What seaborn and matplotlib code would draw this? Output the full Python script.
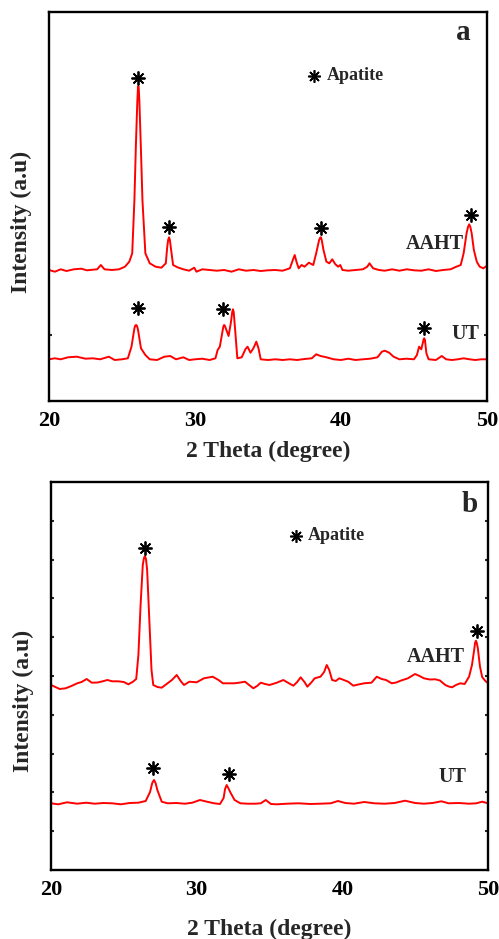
# -*- coding: utf-8 -*-
"""
XRD patterns of UT and AAHT samples, panels a and b.
"""

# %% Import packages

import pandas as pd
import matplotlib
matplotlib.use('Agg')
import matplotlib.pyplot as plt
import seaborn as sns

# %% Data (intensity in arbitrary units)

#Panel a - AAHT
aAahtTheta = [20.0, 20.4, 20.8, 21.2, 21.7, 22.2, 22.6, 23.0, 23.3, 23.55,
              23.8, 24.3, 24.8, 25.2, 25.5, 25.7, 25.85, 25.95, 26.05, 26.09,
              26.12, 26.15, 26.19, 26.3, 26.4, 26.6, 26.9, 27.3, 27.7, 28.0,
              28.1, 28.16, 28.22, 28.28, 28.35, 28.5, 28.8, 29.2, 29.6, 29.95,
              30.1, 30.5, 31.0, 31.5, 32.0, 32.5, 33.0, 33.5, 34.0, 34.5,
              35.0, 35.5, 36.0, 36.5, 36.7, 36.83, 36.95, 37.1, 37.3, 37.5,
              37.8, 38.1, 38.3, 38.5, 38.56, 38.62, 38.68, 38.8, 39.0, 39.2,
              39.4, 39.6, 39.8, 39.95, 40.1, 40.5, 41.0, 41.5, 41.8, 41.95,
              42.2, 42.6, 43.0, 43.5, 44.0, 44.5, 45.0, 45.5, 46.0, 46.5,
              47.0, 47.5, 47.9, 48.2, 48.4, 48.6, 48.7, 48.78, 48.86, 48.95,
              49.1, 49.3, 49.5, 49.75, 50.0]
aAahtInt = [131, 129.3, 131.7, 130, 131.7, 132.3, 130.7, 131.3, 131.7, 136,
            131.7, 131, 131.7, 134.3, 139.3, 147.7, 201, 255, 300, 312,
            315, 312, 300, 250, 201, 147.7, 137.7, 134.3, 133.3, 137.7,
            154.3, 161, 163.7, 161, 152.7, 136, 133.7, 131.7, 130.3, 133.3,
            129.3, 131.7, 131, 130.3, 131, 129.3, 131.7, 130.3, 131, 130,
            130.7, 131, 130.3, 132.7, 141, 146, 139.3, 132.7, 136, 134.3,
            138.3, 136, 147.7, 161, 163, 163.7, 161, 151, 139.3, 137.7,
            141.7, 137, 134.3, 136, 131, 130.3, 131, 131.7, 134.3, 137.7,
            132.7, 131, 130.3, 131.7, 130.3, 131.7, 130.7, 130.3, 131.7, 130,
            131, 131.7, 134.3, 136, 147.7, 167.7, 174, 176.7, 174, 167.7,
            151, 139.3, 134.3, 132.7, 135.3]

#Panel a - UT
aUtTheta = [20.0, 20.4, 20.8, 21.3, 21.9, 22.5, 23.0, 23.5, 24.1, 24.5,
            25.0, 25.4, 25.65, 25.85, 25.91, 25.97, 26.03, 26.1, 26.3, 26.6,
            26.9, 27.4, 27.9, 28.3, 28.7, 29.2, 29.6, 30.0, 30.5, 31.0,
            31.4, 31.55, 31.7, 31.9, 31.95, 32.0, 32.05, 32.15, 32.3, 32.45,
            32.55, 32.6, 32.65, 32.75, 32.9, 33.2, 33.45, 33.6, 33.8, 34.0,
            34.2, 34.35, 34.5, 35.0, 35.5, 36.0, 36.5, 37.0, 37.5, 38.0,
            38.3, 38.6, 39.0, 39.5, 40.0, 40.5, 41.0, 41.5, 42.0, 42.5,
            42.8, 43.0, 43.3, 43.6, 44.0, 44.5, 45.0, 45.2, 45.35, 45.5,
            45.65, 45.7, 45.75, 45.85, 46.0, 46.5, 46.9, 47.2, 47.6, 48.0,
            48.4, 48.8, 49.2, 49.6, 50.0]
aUtInt = [41.7, 42.7, 41.7, 43.7, 44.3, 42.3, 42.7, 41.7, 44.3, 41,
          41.7, 42.7, 54.3, 72.7, 75.5, 76, 75, 71, 52.7, 46,
          41.7, 41, 44.3, 45, 41.7, 43.7, 41, 41.7, 42.3, 41,
          42.7, 51, 54.3, 71, 75, 76, 75, 71, 65, 77.7,
          89, 91.7, 89, 71, 42.7, 43.7, 51.7, 54.3, 48.3, 52.7,
          59.3, 52.7, 41.7, 41, 41.7, 41, 41.7, 41, 42, 42.7,
          46.7, 45, 43.7, 41.7, 41, 42.3, 41, 41.7, 42.3, 43.7,
          49.3, 50.3, 48.3, 44.3, 41.7, 42.3, 41.7, 46, 54.3, 51.7,
          61, 62.7, 61, 47.7, 41.7, 41, 45, 41.7, 41, 41.7,
          42.7, 41.7, 41, 41.7, 41.7]

#Panel b - AAHT
bAahtTheta = [20.0, 20.3, 20.6, 21.0, 21.4, 21.8, 22.1, 22.45, 22.8, 23.2,
              23.5, 23.87, 24.2, 24.6, 25.0, 25.31, 25.6, 25.85, 26.0, 26.15,
              26.3, 26.38, 26.45, 26.52, 26.6, 26.75, 26.9, 27.02, 27.3, 27.6,
              28.0, 28.3, 28.63, 28.9, 29.13, 29.5, 30.0, 30.5, 31.1, 31.5,
              31.8, 32.2, 32.6, 33.0, 33.32, 33.6, 33.89, 34.15, 34.4, 34.7,
              35.0, 35.5, 35.95, 36.3, 36.64, 36.9, 37.14, 37.4, 37.6, 37.9,
              38.1, 38.5, 38.75, 38.93, 39.1, 39.3, 39.55, 39.79, 40.1, 40.4,
              40.75, 41.1, 41.5, 42.0, 42.36, 42.7, 43.0, 43.39, 43.7, 44.0,
              44.5, 44.99, 45.3, 45.6, 46.0, 46.38, 46.7, 47.07, 47.3, 47.53,
              47.8, 48.1, 48.4, 48.7, 48.9, 49.05, 49.11, 49.17, 49.23, 49.3,
              49.45, 49.6, 49.8, 50.0]
bAahtInt = [185, 183, 181, 181.7, 184, 186.7, 188, 191, 187.3, 187.5,
            188.5, 190, 188.7, 188.7, 188, 185.7, 188, 191, 215, 265,
            305, 312, 314, 311, 300, 250, 200, 185, 183, 182.3,
            186.7, 190, 195, 189, 185, 188.3, 187.7, 191.7, 193.3, 190,
            186.7, 186.7, 186.7, 187.5, 188.3, 185, 181.7, 184, 187.3, 186,
            185, 187.3, 190, 187, 184.3, 188, 192.7, 188, 183.3, 188,
            191.7, 193.3, 198, 205, 200, 190, 189, 191.7, 190, 188.3,
            184.3, 185.5, 186.7, 187.3, 193.3, 191, 190, 186.7, 187.5, 189.3,
            191.7, 196, 194, 191.7, 190.5, 190.7, 189.5, 185, 183.5, 182.7,
            185, 186.7, 186, 193.3, 205, 220, 227, 229.3, 227, 222,
            203.3, 193, 189.3, 186.7]

#Panel b - UT
bUtTheta = [20.0, 20.5, 21.1, 21.8, 22.4, 23.0, 23.6, 24.2, 24.8, 25.4,
            26.0, 26.5, 26.8, 26.95, 27.07, 27.18, 27.3, 27.6, 28.0, 28.6,
            29.2, 29.7, 30.23, 30.7, 31.2, 31.6, 31.85, 31.95, 32.06, 32.17,
            32.3, 32.6, 33.0, 33.5, 34.0, 34.4, 34.74, 35.1, 35.5, 36.2,
            37.0, 37.8, 38.5, 39.2, 39.7, 40.2, 40.8, 41.5, 42.2, 42.9,
            43.6, 44.3, 45.0, 45.6, 46.2, 46.8, 47.3, 48.0, 48.7, 49.2,
            49.6, 50.0]
bUtInt = [66.7, 65.7, 67.7, 66.3, 67.3, 66.3, 67, 66.7, 65.7, 67,
          67.3, 69, 78, 87, 90, 87, 80, 68.3, 66.7, 67,
          66.3, 67.3, 70, 68.3, 66.7, 66, 72, 81, 85, 82,
          78, 70, 66.7, 66.3, 66.3, 66.7, 70, 66, 65.7, 66.3,
          66.7, 66, 66.3, 66.7, 69, 67, 66.3, 68, 66.7, 66.3,
          67, 69.3, 67, 66.3, 67, 68.7, 66.7, 67, 66.3, 66.7,
          68.3, 66.7]

#Apatite peak markers (2 theta, intensity)
aStarTheta = [26.12, 28.25, 38.6, 48.9, 26.1, 31.95, 45.7]
aStarInt = [323, 174, 173, 186, 93, 91.7, 73]
bStarTheta = [26.45, 49.22, 27.0, 32.2]
bStarInt = [321.7, 239.3, 101.7, 96]

# %% Set-up

sns.set_style('white')
plt.rcParams['font.family'] = ['Liberation Serif', 'DejaVu Serif']
plt.rcParams['font.weight'] = 'bold'
plt.rcParams['axes.labelweight'] = 'bold'

fig = plt.figure(figsize = (4.99, 9.39), dpi = 100)
fig.patch.set_facecolor('white')

axA = fig.add_axes([49/499, (939-401)/939, 438/499, 389/939])
axB = fig.add_axes([51/499, (939-870)/939, 437/499, 388/939])

starMarker = (8, 2, 0)

def styleAxes(ax, yTicks, xPad, yLabPos):
    ax.set_xlim([20, 50])
    ax.set_xticks([20, 30, 40, 50])
    ax.set_yticks(yTicks)
    ax.set_yticklabels([])
    for side in ['top', 'bottom', 'left', 'right']:
        ax.spines[side].set_visible(True)
        ax.spines[side].set_linewidth(1.7)
        ax.spines[side].set_color('black')
    ax.tick_params(axis = 'x', direction = 'out', length = 3.5, width = 1.5,
                   labelsize = 16, pad = 4, colors = 'black')
    ax.tick_params(axis = 'y', direction = 'in', length = 2.5, width = 1.5,
                   left = True, right = True)
    for lab in ax.get_xticklabels():
        lab.set_fontweight('bold')
    ax.set_xlabel('2 Theta (degree)', fontsize = 17, labelpad = xPad)
    ax.set_ylabel('Intensity (a.u)', fontsize = 17)
    ax.yaxis.set_label_coords(yLabPos[0], yLabPos[1])
    ax.grid(False)

# %% Panel a

sns.lineplot(x = aAahtTheta, y = aAahtInt, ax = axA, color = '#ff0000',
             lw = 1.4, estimator = None, sort = False)
sns.lineplot(x = aUtTheta, y = aUtInt, ax = axA, color = '#ff0000',
             lw = 1.4, estimator = None, sort = False)
axA.plot(aStarTheta, aStarInt, ls = 'none', marker = starMarker,
         ms = 10, mew = 1.3, color = 'black')
axA.plot([38.15], [325], ls = 'none', marker = starMarker,
         ms = 9, mew = 1.2, color = 'black')
axA.text(39.05, 325, 'Apatite', fontsize = 13, fontweight = 'bold',
         ha = 'left', va = 'center')
axA.text(48.4, 157, 'AAHT', fontsize = 14.5, fontweight = 'bold',
         ha = 'right', va = 'center')
axA.text(49.45, 67, 'UT', fontsize = 14.5, fontweight = 'bold',
         ha = 'right', va = 'center')
axA.text(48.4, 368, 'a', fontsize = 21, fontweight = 'bold',
         ha = 'center', va = 'center')
axA.set_ylim([0, 389])
styleAxes(axA, [66], 7, (-0.039, 0.46))

# %% Panel b

sns.lineplot(x = bAahtTheta, y = bAahtInt, ax = axB, color = '#ff0000',
             lw = 1.4, estimator = None, sort = False)
sns.lineplot(x = bUtTheta, y = bUtInt, ax = axB, color = '#ff0000',
             lw = 1.4, estimator = None, sort = False)
axB.plot(bStarTheta, bStarInt, ls = 'none', marker = starMarker,
         ms = 10, mew = 1.3, color = 'black')
axB.plot([36.8], [334.3], ls = 'none', marker = starMarker,
         ms = 9, mew = 1.2, color = 'black')
axB.text(37.66, 334.3, 'Apatite', fontsize = 13, fontweight = 'bold',
         ha = 'left', va = 'center')
axB.text(48.4, 213.3, 'AAHT', fontsize = 14.5, fontweight = 'bold',
         ha = 'right', va = 'center')
axB.text(48.5, 93.3, 'UT', fontsize = 14.5, fontweight = 'bold',
         ha = 'right', va = 'center')
axB.text(48.74, 365.7, 'b', fontsize = 21, fontweight = 'bold',
         ha = 'center', va = 'center')
axB.set_ylim([0, 388])
styleAxes(axB, [388*k/10 for k in range(1, 10)], 13, (-0.039, 0.435))

#Save figure
fig.savefig('out.png', dpi = 100, facecolor = 'white')
